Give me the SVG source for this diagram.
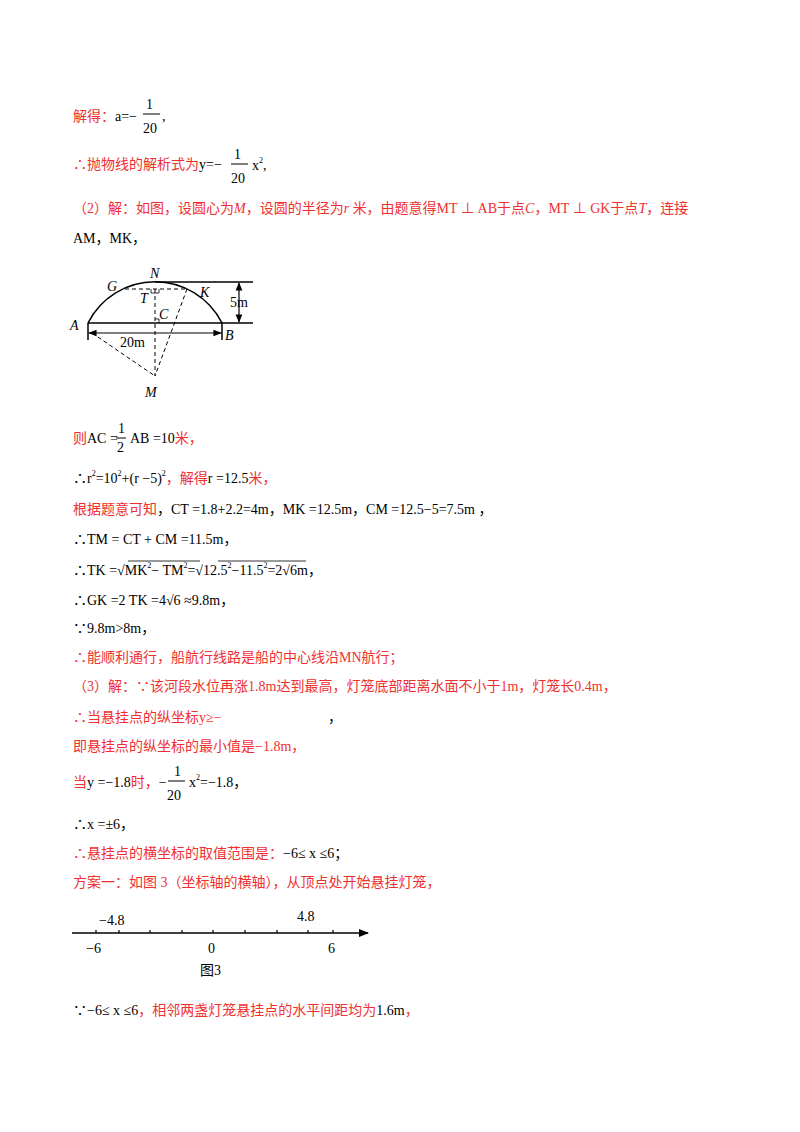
<svg xmlns="http://www.w3.org/2000/svg" width="800" height="1132" viewBox="0 0 800 1132">
<style>
text{font-family:"Liberation Serif","Noto Sans CJK SC",serif;font-size:14px;fill:#000}
.r{fill:#f03030}
.i{font-style:italic}
.l{stroke:#000;stroke-width:1.5;fill:none}
.d{stroke:#000;stroke-width:1;stroke-dasharray:4,3;fill:none}
</style>
<defs>
<marker id="ar" viewBox="0 0 10 10" refX="9" refY="5" markerWidth="7" markerHeight="7" orient="auto-start-reverse"><path d="M0,1L10,5L0,9z" fill="#000"/></marker>
</defs>
<rect width="800" height="1132" fill="#fff"/>
<g id="text">
<text x="73" y="121"><tspan class="r">解得：</tspan>a=−</text>
<text x="146" y="109">1</text><line x1="143" y1="114" x2="160" y2="114" stroke="#000"/><text x="143" y="133">20</text><text x="162" y="121">,</text>
<text x="73" y="169"><tspan class="r">∴抛物线的解析式为</tspan>y=−</text>
<text x="234" y="159">1</text><line x1="231" y1="164" x2="248" y2="164" stroke="#000"/><text x="231" y="183">20</text><text x="252" y="170">x<tspan font-size="8" dy="-7">2</tspan><tspan dy="7">,</tspan></text>
<text x="73" y="213" class="r">（2）解：如图，设圆心为<tspan class="i">M</tspan>，设圆的半径为<tspan class="i">r</tspan> 米，由题意得MT ⊥ AB于点<tspan class="i">C</tspan>，MT ⊥ GK于点<tspan class="i">T</tspan>，连接</text>
<text x="73" y="243">AM，MK，</text>
<text x="73" y="443"><tspan class="r">则</tspan>AC =</text>
<text x="118" y="433">1</text><line x1="116" y1="438" x2="126" y2="438" stroke="#000"/><text x="117" y="452">2</text>
<text x="130" y="443">AB =10<tspan class="r">米，</tspan></text>
<text x="73" y="483">∴r<tspan font-size="8" dy="-7">2</tspan><tspan dy="7">=10</tspan><tspan font-size="8" dy="-7">2</tspan><tspan dy="7">+(r −5)</tspan><tspan font-size="8" dy="-7">2</tspan><tspan dy="7" class="r">，解得</tspan>r =12.5<tspan class="r">米，</tspan></text>
<text x="73" y="514"><tspan class="r">根据题意可知</tspan>，CT =1.8+2.2=4m，MK =12.5m，CM =12.5−5=7.5m ，</text>
<text x="73" y="544">∴TM = CT + CM =11.5m，</text>
<text x="73" y="575">∴TK =√MK<tspan font-size="8" dy="-7">2</tspan><tspan dy="7">− TM</tspan><tspan font-size="8" dy="-7">2</tspan><tspan dy="7">=√12.5</tspan><tspan font-size="8" dy="-7">2</tspan><tspan dy="7">−11.5</tspan><tspan font-size="8" dy="-7">2</tspan><tspan dy="7">=2√6m，</tspan></text>
<line x1="128" y1="561" x2="200" y2="561" stroke="#000" stroke-width="0.8"/>
<line x1="218" y1="561" x2="306" y2="561" stroke="#000" stroke-width="0.8"/>
<text x="73" y="605">∴GK =2 TK =4√6 ≈9.8m，</text>
<text x="73" y="633">∵9.8m&gt;8m，</text>
<text x="73" y="662" class="r">∴能顺利通行，船航行线路是船的中心线沿MN航行；</text>
<text x="73" y="691" class="r">（3）解：∵该河段水位再涨1.8m达到最高，灯笼底部距离水面不小于1m，灯笼长0.4m，</text>
<text x="73" y="722" class="r">∴当悬挂点的纵坐标y≥−</text><text x="328" y="722">，</text>
<text x="73" y="751" class="r">即悬挂点的纵坐标的最小值是−1.8m，</text>
<text x="73" y="787"><tspan class="r">当</tspan>y =−1.8<tspan class="r">时，</tspan>−</text>
<text x="174" y="776">1</text><line x1="168" y1="781" x2="185" y2="781" stroke="#000"/><text x="167" y="800">20</text>
<text x="189" y="787">x<tspan font-size="8" dy="-7">2</tspan><tspan dy="7">=−1.8，</tspan></text>
<text x="73" y="829">∴x =±6，</text>
<text x="73" y="858"><tspan class="r">∴悬挂点的横坐标的取值范围是：</tspan>−6≤ x ≤6；</text>
<text x="73" y="887" class="r">方案一：如图 3（坐标轴的横轴），从顶点处开始悬挂灯笼，</text>
<text x="73" y="1015">∵−6≤ x ≤6<tspan class="r">，相邻两盏灯笼悬挂点的水平间距均为</tspan>1.6m<tspan class="r">，</tspan></text>
</g>
<g id="figure2">
<path class="l" d="M88,323 A75,75 0 0 1 222,323"/>
<line class="l" x1="155" y1="282" x2="253" y2="282"/>
<line class="l" x1="88" y1="323" x2="253" y2="323"/>
<line class="l" x1="88" y1="323" x2="88" y2="340" stroke-width="1"/>
<line class="l" x1="222" y1="323" x2="222" y2="340" stroke-width="1"/>
<line class="d" x1="125" y1="289" x2="187" y2="289"/>
<line class="d" x1="155" y1="289" x2="155" y2="376"/>
<line class="d" x1="92" y1="333" x2="155" y2="376"/>
<line class="d" x1="187" y1="289" x2="155" y2="376"/>
<path d="M151,289v4h8v-4 M155,319h4v4" stroke="#000" fill="none" stroke-width="0.8"/>
<line x1="89" y1="333" x2="221" y2="333" stroke="#000" stroke-width="1.2" marker-start="url(#ar)" marker-end="url(#ar)"/>
<line x1="239" y1="283" x2="239" y2="322" stroke="#000" stroke-width="1.2" marker-start="url(#ar)" marker-end="url(#ar)"/>
<g font-style="italic">
<text x="107" y="291" font-size="15">G</text>
<text x="150" y="278" font-size="15">N</text>
<text x="200" y="297" font-size="15">K</text>
<text x="140" y="303" font-size="15">T</text>
<text x="159" y="319" font-size="15">C</text>
<text x="70" y="330" font-size="15">A</text>
<text x="225" y="340" font-size="15">B</text>
<text x="145" y="397" font-size="15">M</text>
</g>
<text x="120" y="347" font-size="15">20m</text>
<text x="230" y="307" font-size="15">5m</text>
</g>
<g id="figure3">
<line x1="72" y1="933" x2="368" y2="933" stroke="#000" stroke-width="1.5" marker-end="url(#ar)"/>
<path d="M96,930v3M119,930v3M150,930v3M182,930v3M213,930v3M245,930v3M277,930v3M308,930v3M333,930v3" stroke="#000" stroke-width="1.2"/>
<text x="99" y="925">−4.8</text>
<text x="297" y="921">4.8</text>
<text x="86" y="953">−6</text>
<text x="208" y="953">0</text>
<text x="328" y="953">6</text>
<text x="200" y="975">图3</text>
</g>
</svg>
